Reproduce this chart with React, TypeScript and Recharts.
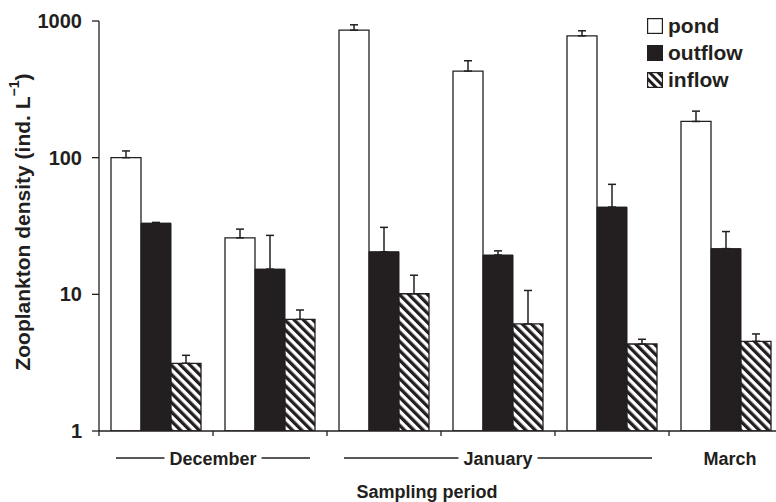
import React from "react";
import {
  BarChart,
  Bar,
  XAxis,
  YAxis,
  ErrorBar,
  Legend,
} from "recharts";

// sampling dates, two in December, three in January, one in March
const samples = ["Dec-1", "Dec-2", "Jan-1", "Jan-2", "Jan-3", "Mar-1"];
const pond = [100, 25.9, 857, 430, 779, 184];
const pondErr = [12, 4.1, 81, 82, 69, 35];
const outflow = [33.2, 15.3, 20.5, 19.4, 43.5, 21.6];
const outflowErr = [0.4, 11.7, 10.4, 1.4, 20.3, 7.2];
const inflow = [3.13, 6.56, 10.1, 6.07, 4.33, 4.53];
const inflowErr = [0.45, 1.12, 3.7, 4.6, 0.36, 0.6];

const yTicks = [1, 10, 100, 1000];
const monthLabels = ["December", "January", "March"];
const monthStart = [0, 2, 5]; // index of first sample in each month
const monthEnd = [2, 5, 6];

const FONT = "'Liberation Sans', Arial, Helvetica, sans-serif";
const INK = "#231f20";
const W = 790;
const H = 502;
const Y_AXIS_W = 99;
const MARGIN = { top: 21, right: 7, left: 0, bottom: 0 };
const PLOT_W = W - MARGIN.left - MARGIN.right - Y_AXIS_W;
const GROUP_PX = PLOT_W / samples.length;

const chartData = samples.map((s, i) => ({
  sample: s,
  pond: pond[i],
  pondErr: [0, pondErr[i]],
  outflow: outflow[i],
  outflowErr: [0, outflowErr[i]],
  inflow: inflow[i],
  inflowErr: [0, inflowErr[i]],
}));

let ctx: CanvasRenderingContext2D | null = null;
const measure = (txt: string) => {
  if (!ctx) ctx = document.createElement("canvas").getContext("2d");
  if (!ctx) return txt.length * 10;
  ctx.font = `bold 18px ${FONT}`;
  return ctx.measureText(txt).width;
};

// tick marks sit on group boundaries; month names span their groups
const SampleTick = (props: any) => {
  const { x, y, index } = props;
  const left = x - GROUP_PX / 2;
  const m = monthStart.indexOf(index);
  const isLast = index === samples.length - 1;
  let month = null;
  if (m >= 0) {
    const span = monthEnd[m] - monthStart[m];
    const cx = left + (span * GROUP_PX) / 2 + (span === 1 ? 4 : 0);
    const half = (span * GROUP_PX) / 2;
    const tw = measure(monthLabels[m]) / 2;
    const ly = y + 27;
    month = (
      <g>
        <text
          x={cx}
          y={y + 33.5}
          textAnchor="middle"
          fontFamily={FONT}
          fontWeight="bold"
          fontSize={18}
          fill={INK}
        >
          {monthLabels[m]}
        </text>
        {span > 1 && (
          <>
            <line x1={cx - half + 17} x2={cx - tw - 5} y1={ly} y2={ly} stroke={INK} strokeWidth={1.3} />
            <line x1={cx + tw + 5} x2={cx + half - 17} y1={ly} y2={ly} stroke={INK} strokeWidth={1.3} />
          </>
        )}
      </g>
    );
  }
  return (
    <g>
      <line x1={left} x2={left} y1={y} y2={y + 5} stroke={INK} strokeWidth={1.3} />
      {isLast && (
        <line x1={left + GROUP_PX} x2={left + GROUP_PX} y1={y} y2={y + 5} stroke={INK} strokeWidth={1.3} />
      )}
      {month}
    </g>
  );
};

const YTitle = (props: any) => {
  const vb = props.viewBox || { x: 0, y: 0, width: 0, height: 0 };
  const cx = vb.x + 22;
  const cy = vb.y + vb.height / 2 - 4;
  return (
    <text
      x={cx}
      y={cy}
      transform={`rotate(-90, ${cx}, ${cy})`}
      textAnchor="middle"
      dominantBaseline="central"
      fontFamily={FONT}
      fontWeight="bold"
      fontSize={21}
      fill={INK}
    >
      Zooplankton density (ind. L
      <tspan dy={-8} fontSize={14}>
        −1
      </tspan>
      <tspan dy={8}>)</tspan>
    </text>
  );
};

const XTitle = (props: any) => {
  const vb = props.viewBox || { x: 0, y: 0, width: 0, height: 0 };
  return (
    <text
      x={vb.x + 328}
      y={vb.y + 67}
      textAnchor="middle"
      fontFamily={FONT}
      fontWeight="bold"
      fontSize={18}
      fill={INK}
    >
      Sampling period
    </text>
  );
};

const legendItems = [
  { key: "pond", fill: "#fff" },
  { key: "outflow", fill: INK },
  { key: "inflow", fill: "url(#hatchLegend)" },
];

const LegendBox = () => (
  <div style={{ fontFamily: FONT, fontWeight: "bold", fontSize: 21, color: INK }}>
    {legendItems.map((it) => (
      <div key={it.key} style={{ display: "flex", alignItems: "center", height: 27 }}>
        <svg width={16} height={16} style={{ marginRight: 5 }}>
          <defs>
            <pattern
              id="hatchLegend"
              width={6}
              height={6}
              patternUnits="userSpaceOnUse"
              patternTransform="rotate(-45)"
            >
              <rect width={6} height={6} fill="#fff" />
              <rect width={3} height={6} fill={INK} />
            </pattern>
          </defs>
          <rect x={0.6} y={0.6} width={14.8} height={14.8} fill={it.fill} stroke={INK} strokeWidth={1.2} />
        </svg>
        <span>{it.key}</span>
      </div>
    ))}
  </div>
);

export default function App() {
  return (
    <div
      style={{
        position: "fixed",
        top: 0,
        left: 0,
        width: 776,
        height: 502,
        overflow: "hidden",
        background: "#fff",
      }}
    >
      <BarChart width={W} height={H} data={chartData} margin={MARGIN} barGap={0}>
        <defs>
          <pattern
            id="hatch"
            width={6.6}
            height={6.6}
            patternUnits="userSpaceOnUse"
            patternTransform="rotate(-45)"
          >
            <rect width={6.6} height={6.6} fill="#fff" />
            <rect width={3.3} height={6.6} fill={INK} />
          </pattern>
        </defs>
        <XAxis
          dataKey="sample"
          interval={0}
          height={71}
          tickLine={false}
          tickSize={0}
          tickMargin={0}
          stroke={INK}
          strokeWidth={1.3}
          tick={<SampleTick />}
          label={<XTitle />}
        />
        <YAxis
          scale="log"
          domain={[1, 1000]}
          ticks={yTicks}
          interval={0}
          allowDataOverflow
          width={Y_AXIS_W}
          tickSize={7}
          tickMargin={10}
          stroke={INK}
          strokeWidth={1.3}
          tick={{ fontSize: 20, fontWeight: "bold", fill: INK, fontFamily: FONT }}
          label={<YTitle />}
        />
        <Legend
          layout="vertical"
          verticalAlign="middle"
          align="center"
          content={<LegendBox />}
          wrapperStyle={{ top: 12, left: 647, width: 130 }}
        />
        <Bar dataKey="pond" barSize={30} fill="#fff" stroke={INK} strokeWidth={1.3} isAnimationActive={false}>
          <ErrorBar dataKey="pondErr" direction="y" width={4} stroke={INK} strokeWidth={1.5} isAnimationActive={false} />
        </Bar>
        <Bar dataKey="outflow" barSize={30} fill={INK} stroke={INK} strokeWidth={1} isAnimationActive={false}>
          <ErrorBar dataKey="outflowErr" direction="y" width={4} stroke={INK} strokeWidth={1.5} isAnimationActive={false} />
        </Bar>
        <Bar dataKey="inflow" barSize={30} fill="url(#hatch)" stroke={INK} strokeWidth={1.3} isAnimationActive={false}>
          <ErrorBar dataKey="inflowErr" direction="y" width={4} stroke={INK} strokeWidth={1.5} isAnimationActive={false} />
        </Bar>
      </BarChart>
    </div>
  );
}
